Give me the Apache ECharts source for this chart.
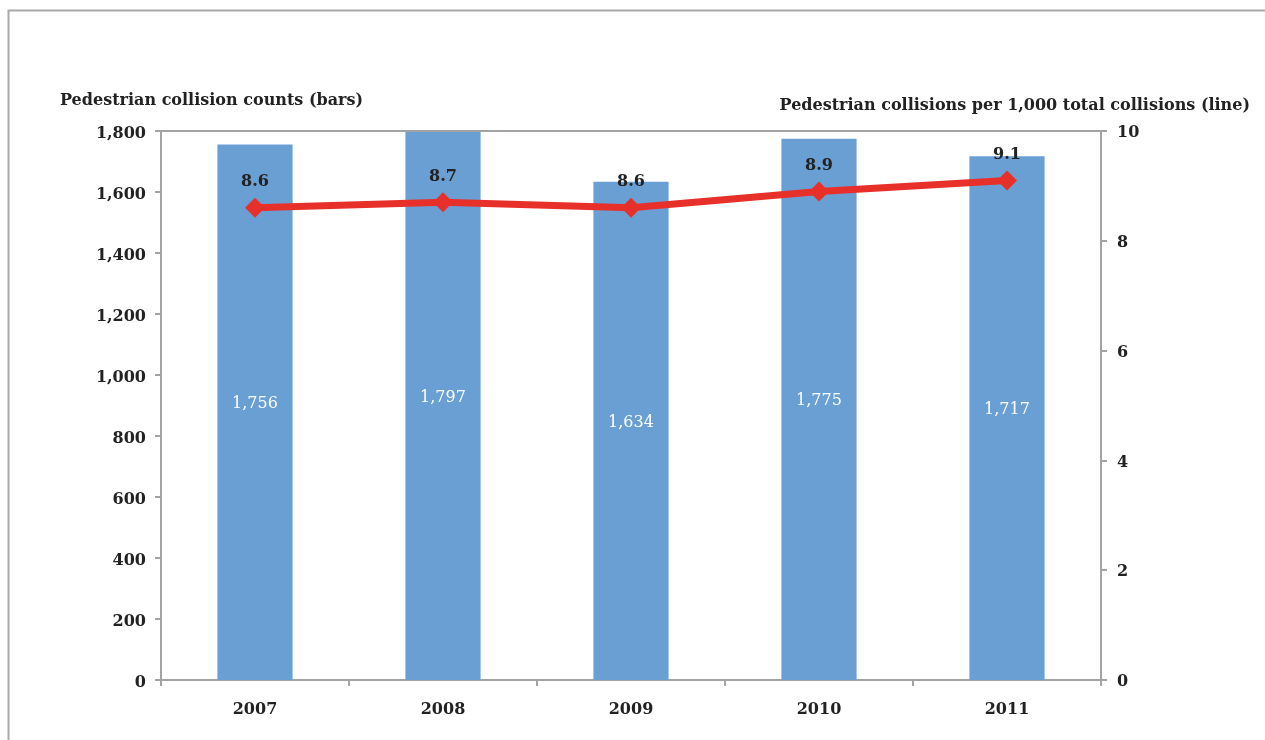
<!DOCTYPE html>
<html>
<head>
<meta charset="utf-8">
<script src="https://cdn.jsdelivr.net/npm/echarts@6/dist/echarts.min.js"></script>
<style>
html,body{margin:0;padding:0;background:#fff;}
#chart{width:1265px;height:740px;}
</style>
</head>
<body>
<div id="chart"></div>
<script>
const years = ['2007', '2008', '2009', '2010', '2011'];
const counts = [1756, 1797, 1634, 1775, 1717];
const rates = [8.6, 8.7, 8.6, 8.9, 9.1];
const leftTicks = { min: 0, max: 1800, interval: 200 };
const rightTicks = { min: 0, max: 10, interval: 2 };
const leftName = 'Pedestrian collision counts (bars)';
const rightName = 'Pedestrian collisions per 1,000 total collisions (line)';

const FONT = '"DejaVu Serif", serif';
const axisGray = '#a3a3a3';
const fmt = v => v.toLocaleString('en-US');

const chart = echarts.init(document.getElementById('chart'));
chart.setOption({
  animation: false,
  backgroundColor: '#fff',
  graphic: [
    { type: 'rect', left: 6, top: 8, z: -10, silent: true,
      shape: { x: 0, y: 0, width: 1300, height: 800 },
      style: { fill: 'none', stroke: '#a8a8a8', lineWidth: 2 } },
    { type: 'text', left: 60, top: 93,
      style: { text: leftName, font: 'bold 16px ' + FONT, fill: '#222' } },
    { type: 'text', right: 15, top: 98,
      style: { text: rightName, font: 'bold 16px ' + FONT, fill: '#222' } }
  ],
  grid: { left: 161, right: 164, top: 131, bottom: 60, show: true, borderColor: axisGray, borderWidth: 2 },
  xAxis: {
    type: 'category', data: years,
    axisLine: { lineStyle: { color: axisGray, width: 2 } },
    axisTick: { show: true, alignWithLabel: false, length: 6, lineStyle: { color: axisGray, width: 2 } },
    axisLabel: { color: '#222', fontFamily: FONT, fontWeight: 'bold', fontSize: 16, margin: 22 }
  },
  yAxis: [
    { type: 'value', min: leftTicks.min, max: leftTicks.max, interval: leftTicks.interval,
      axisLine: { show: true, lineStyle: { color: axisGray, width: 2 } },
      axisTick: { show: true, length: 6, lineStyle: { color: axisGray, width: 2 } },
      splitLine: { show: false },
      axisLabel: { color: '#222', fontFamily: FONT, fontWeight: 'bold', fontSize: 16, margin: 15, verticalAlign: 'top', padding: [-5, 0, 0, 0], formatter: fmt } },
    { type: 'value', position: 'right', min: rightTicks.min, max: rightTicks.max, interval: rightTicks.interval,
      axisLine: { show: true, lineStyle: { color: axisGray, width: 2 } },
      axisTick: { show: true, length: 6, lineStyle: { color: axisGray, width: 2 } },
      splitLine: { show: false },
      axisLabel: { color: '#222', fontFamily: FONT, fontWeight: 'bold', fontSize: 16, margin: 16, verticalAlign: 'top', padding: [-6, 0, 0, 0] } }
  ],
  series: [
    { type: 'bar', data: counts, yAxisIndex: 0, barWidth: '40%',
      itemStyle: { color: '#6a9fd4' },
      label: { show: true, position: 'inside', offset: [0, -8], color: '#fff', fontFamily: FONT, fontSize: 16, formatter: p => fmt(p.value) } },
    { type: 'line', data: rates, yAxisIndex: 1,
      symbol: 'diamond', symbolSize: 20,
      lineStyle: { color: '#e8302a', width: 7 },
      itemStyle: { color: '#e8302a' },
      label: { show: true, position: 'top', distance: 8, color: '#222', fontFamily: FONT, fontWeight: 'bold', fontSize: 16, formatter: p => p.value.toFixed(1) } }
  ]
});
</script>
</body>
</html>
